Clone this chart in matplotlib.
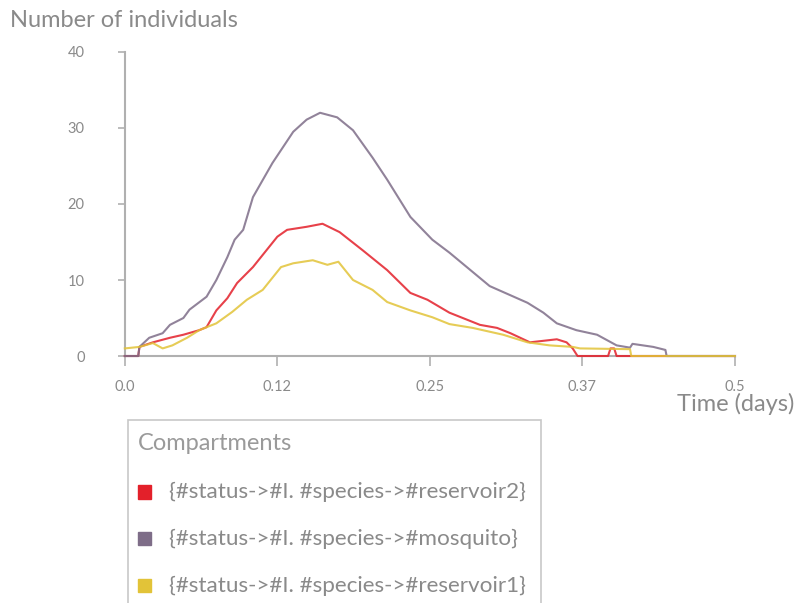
import matplotlib
matplotlib.use("Agg")
import matplotlib.pyplot as plt
from matplotlib.patches import Rectangle

# series (time in days, number of individuals)
mosquito_t = [0.0, 0.011, 0.012, 0.020, 0.031, 0.037, 0.048, 0.053, 0.067, 0.075, 0.084,
              0.090, 0.097, 0.105, 0.121, 0.138, 0.149, 0.160, 0.174, 0.187, 0.203, 0.215,
              0.234, 0.252, 0.266, 0.275, 0.299, 0.330, 0.343, 0.354, 0.370, 0.387, 0.403,
              0.414, 0.416, 0.433, 0.443, 0.444, 0.5]
mosquito_y = [0.0, 0.0, 1.2, 2.4, 3.0, 4.1, 5.0, 6.1, 7.8, 10.0, 13.0,
              15.3, 16.6, 20.9, 25.4, 29.5, 31.1, 32.0, 31.4, 29.7, 26.1, 23.2,
              18.3, 15.3, 13.6, 12.4, 9.2, 7.0, 5.7, 4.3, 3.4, 2.8, 1.4,
              1.1, 1.6, 1.2, 0.8, 0.0, 0.0]

reservoir2_t = [0.0, 0.011, 0.012, 0.023, 0.037, 0.048, 0.061, 0.067, 0.075, 0.084, 0.092,
                0.105, 0.116, 0.125, 0.133, 0.149, 0.162, 0.176, 0.195, 0.215, 0.234,
                0.248, 0.266, 0.291, 0.305, 0.316, 0.332, 0.354, 0.362, 0.367, 0.371,
                0.396, 0.398, 0.401, 0.403, 0.5]
reservoir2_y = [0.0, 0.0, 1.2, 1.8, 2.4, 2.8, 3.4, 3.8, 6.0, 7.6, 9.6,
                11.7, 13.9, 15.7, 16.6, 17.0, 17.4, 16.3, 13.9, 11.3, 8.3,
                7.4, 5.7, 4.1, 3.7, 3.0, 1.8, 2.2, 1.8, 1.0, 0.0,
                0.0, 1.0, 1.0, 0.0, 0.0]

reservoir1_t = [0.0, 0.012, 0.023, 0.031, 0.039, 0.051, 0.061, 0.075, 0.088, 0.100, 0.113,
                0.128, 0.138, 0.154, 0.166, 0.175, 0.187, 0.203, 0.215, 0.234, 0.252,
                0.266, 0.285, 0.310, 0.330, 0.348, 0.367, 0.373, 0.414, 0.415, 0.5]
reservoir1_y = [1.0, 1.2, 1.7, 1.0, 1.4, 2.4, 3.4, 4.3, 5.8, 7.4, 8.7,
                11.7, 12.2, 12.6, 12.0, 12.4, 10.0, 8.7, 7.1, 6.0, 5.1,
                4.2, 3.7, 2.8, 1.8, 1.4, 1.2, 1.0, 0.9, 0.0, 0.0]

labels = ["{#status->#I. #species->#reservoir2}",
          "{#status->#I. #species->#mosquito}",
          "{#status->#I. #species->#reservoir1}"]
colors = ["#e3202a", "#7e6d88", "#e2c338"]

x_ticks = [0.0, 0.125, 0.25, 0.375, 0.5]
x_tick_labels = ["0.0", "0.12", "0.25", "0.37", "0.5"]
y_ticks = [0, 10, 20, 30, 40]

plt.rcParams["font.family"] = ["Lato", "DejaVu Sans"]
grey = "#8a8a8a"

fig = plt.figure(figsize=(7.95, 6.03), dpi=100)
ax = fig.add_axes([0.157, 0.4096, 0.7675, 0.5042])

kw = dict(lw=1.5, clip_on=False, zorder=3)
ax.plot(reservoir2_t, reservoir2_y, color=colors[0], alpha=0.85, **kw)
ax.plot(mosquito_t, mosquito_y, color=colors[1], alpha=0.85, **kw)
ax.plot(reservoir1_t, reservoir1_y, color=colors[2], alpha=0.85, **kw)

ax.set_xlim(0, 0.5)
ax.set_ylim(0, 40)
ax.set_xticks(x_ticks, x_tick_labels)
ax.set_yticks(y_ticks)
for s in ["top", "right"]:
    ax.spines[s].set_visible(False)
for s in ["left", "bottom"]:
    ax.spines[s].set_color("#b0b0b0")
    ax.spines[s].set_linewidth(1.5)
    ax.spines[s].set_zorder(1)
ax.tick_params(axis="x", colors="#b0b0b0", labelcolor=grey, labelsize=10.5,
               length=7, width=1.2, pad=10)
ax.tick_params(axis="y", colors="#b0b0b0", labelcolor=grey, labelsize=10.5,
               length=5, width=1.2, pad=24)

fig.text(0.013, 0.966, "Number of individuals", color=grey, fontsize=17,
         ha="left", va="center")
fig.text(0.999, 0.330, "Time (days)", color=grey, fontsize=17,
         ha="right", va="center")

# legend box (cut off at the bottom like in the reference)
fig.patches.append(Rectangle((0.161, -0.05), 0.519, 0.354, transform=fig.transFigure,
                             fill=False, edgecolor="#c8c8c8", lw=1.2))
fig.text(0.174, 0.265, "Compartments", color="#9a9a9a", fontsize=17, va="center")
for i, (lab, c) in enumerate(zip(labels, colors)):
    yy = 0.184 - i * 0.0775
    fig.patches.append(Rectangle((0.174, yy - 0.011), 0.016, 0.022,
                                 transform=fig.transFigure, color=c))
    fig.text(0.212, yy, lab, color=grey, fontsize=16.2, va="center")

fig.savefig("out.png", dpi=100)
